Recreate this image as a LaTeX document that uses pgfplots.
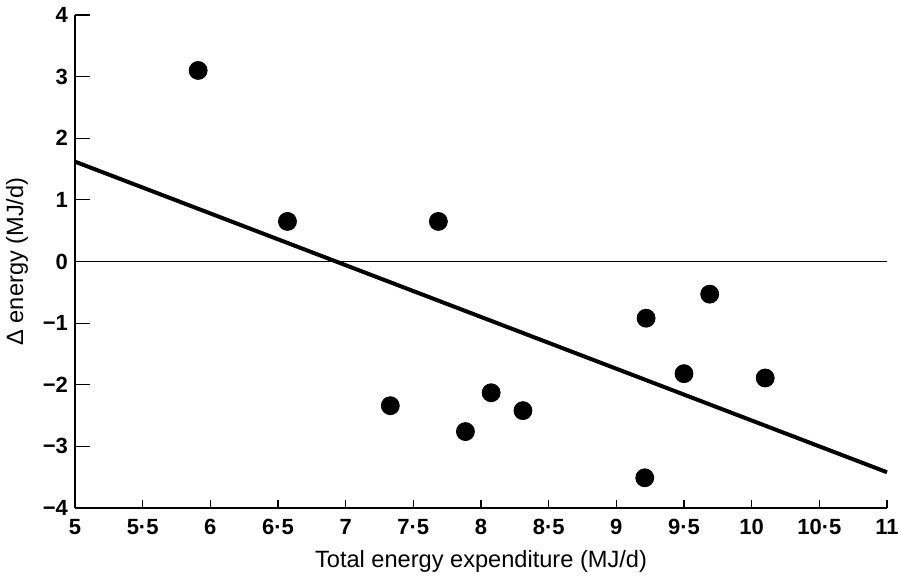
\documentclass[border=0pt]{standalone}
\usepackage{pgfplots}
\pgfplotsset{compat=1.18}
\usepackage{fontspec}
\setmainfont{Liberation Sans}

\begin{document}
\begin{tikzpicture}
\begin{axis}[
  scale only axis, width=406pt, height=246.5pt,
  xmin=5, xmax=11, ymin=-4, ymax=4,
  axis lines*=left, axis line style={line width=0.8pt},
  tick align=inside, major tick length=4pt,
  tick style={black, line width=0.6pt},
  % y axis sits at x=0, so stretching the tick path lengthens the y ticks only
  y tick style={xscale=1.875},
  xtick={5,5.5,...,11},
  xticklabels={5,5·5,6,6·5,7,7·5,8,8·5,9,9·5,10,10·5,11},
  ytick={-4,-3,...,4},
  yticklabels={−4,−3,−2,−1,0,1,2,3,4},
  tick label style={font=\fontsize{11}{13}\selectfont\bfseries},
  xticklabel style={yshift=-2pt},
  xlabel={Total energy expenditure (MJ/d)},
  ylabel={Δ energy (MJ/d)},
  label style={font=\fontsize{11.8}{14}\selectfont},
  xlabel style={yshift=-1pt},
  ylabel style={yshift=0.5pt},
  clip=false,
]
% zero reference line
\addplot[black, line width=0.5pt] coordinates {(5,0) (11,0)};
% regression line
\addplot[black, line width=2pt] coordinates {(5,1.62) (11,-3.42)};
% subjects
\addplot[only marks, mark=*, mark size=4.5pt, black] coordinates {
(5.91,3.10) (6.57,0.65) (7.685,0.65) (7.33,-2.34) (7.885,-2.76)
(8.075,-2.13) (8.31,-2.42) (9.21,-3.51) (9.22,-0.92) (9.69,-0.53)
(9.50,-1.82) (10.10,-1.89)};
\end{axis}
\pgfresetboundingbox
\path[use as bounding box] (-37.5pt,-34pt) rectangle (413pt,254pt);
\end{tikzpicture}
\end{document}
